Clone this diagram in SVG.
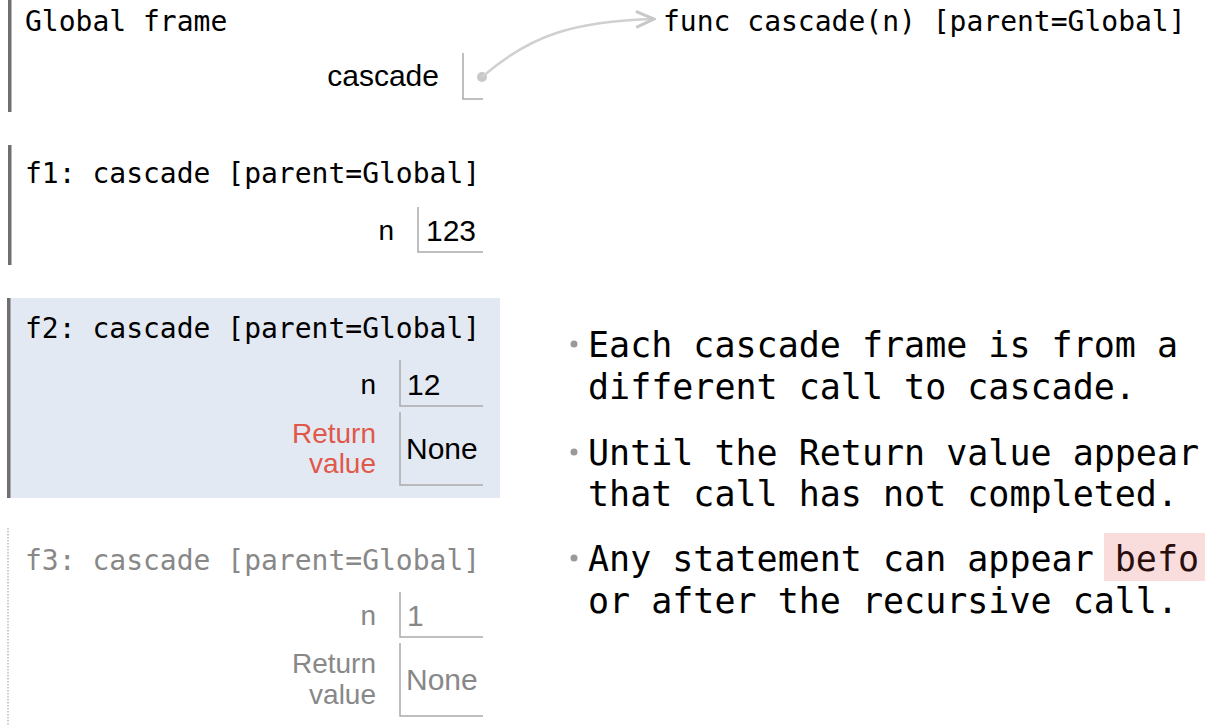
<svg xmlns="http://www.w3.org/2000/svg" width="1205" height="726" viewBox="0 0 1205 726">
<defs>
<style>
.mono{font-family:"DejaVu Sans Mono","Liberation Mono",monospace;}
.hdr{font-size:28px;fill:#000;}
.sans{font-family:"Liberation Sans","DejaVu Sans",sans-serif;}
.lbl{font-size:28px;fill:#000;text-anchor:end;}
.val{font-size:30px;fill:#000;}
.ret{fill:#e0584a;}
.dim{fill:#888;}
.bar{fill:#6f6f6f;}
.box{fill:none;stroke:#aaa;stroke-width:1.5;}
.bul{font-size:35px;fill:#000;}
.dot{fill:#999;}
</style>
<marker id="arr" viewBox="0 0 22 22" refX="20" refY="11" markerWidth="22" markerHeight="22" markerUnits="userSpaceOnUse" orient="auto">
<path d="M2,3 L20,11 L2,19" fill="none" stroke="#c8c8c8" stroke-width="3"/>
</marker>
</defs>
<rect width="1205" height="726" fill="#fff"/>

<g id="global-frame">
<rect class="bar" x="8" y="0" width="3.5" height="112"/>
<text class="mono hdr" x="25" y="31">Global frame</text>
<text class="sans lbl" x="439" y="86" style="font-size:30px">cascade</text>
<path class="box" d="M463,53 V99 H483"/>
</g>

<g id="func-object">
<text class="mono hdr" x="663" y="31">func cascade(n) [parent=Global]</text>
</g>

<g id="f1">
<rect class="bar" x="8" y="145" width="3.5" height="120"/>
<text class="mono hdr" x="25" y="183">f1: cascade [parent=Global]</text>
<text class="sans lbl" x="394" y="240">n</text>
<path class="box" d="M418,207 V252 H483"/>
<text class="sans val" x="426" y="241">123</text>
</g>

<g id="f2">
<rect x="7" y="298" width="493" height="200" fill="#e3e9f2"/>
<rect class="bar" x="7" y="298" width="3.5" height="200"/>
<text class="mono hdr" x="25" y="338">f2: cascade [parent=Global]</text>
<text class="sans lbl" x="376" y="394">n</text>
<path class="box" d="M400,360 V406 H483"/>
<text class="sans val" x="407" y="395">12</text>
<text class="sans lbl ret" x="376" y="443">Return</text>
<text class="sans lbl ret" x="376" y="473">value</text>
<path class="box" d="M400,412 V485 H483"/>
<text class="sans val" x="406" y="459">None</text>
</g>

<g id="f3">
<line x1="8" y1="528" x2="8" y2="726" stroke="#bbb" stroke-width="1.5" stroke-dasharray="1.5,1.5"/>
<text class="mono hdr dim" x="25" y="570">f3: cascade [parent=Global]</text>
<text class="sans lbl dim" x="376" y="625">n</text>
<path class="box" d="M400,592 V637 H483"/>
<text class="sans val dim" x="407" y="626">1</text>
<text class="sans lbl dim" x="376" y="673">Return</text>
<text class="sans lbl dim" x="376" y="704">value</text>
<path class="box" d="M400,643 V716 H483"/>
<text class="sans val dim" x="406" y="690">None</text>
</g>

<g id="connectors">
<circle cx="482" cy="77" r="5" fill="#c8c8c8"/>
<path d="M482,77 C530,35 575,21 654,19" fill="none" stroke="#d0d0d0" stroke-width="2.5" marker-end="url(#arr)"/>
</g>

<g id="notes">
<circle class="dot" cx="574" cy="344" r="3.5"/>
<text class="mono bul" x="588" y="357">Each cascade frame is from a</text>
<text class="mono bul" x="588" y="399">different call to cascade.</text>
<circle class="dot" cx="574" cy="452" r="3.5"/>
<text class="mono bul" x="588" y="465">Until the Return value appear</text>
<text class="mono bul" x="588" y="506">that call has not completed.</text>
<circle class="dot" cx="574" cy="558" r="3.5"/>
<rect x="1104" y="533" width="101" height="48" fill="#f9dcdc"/>
<text class="mono bul" x="588" y="571">Any statement can appear <tspan fill="#2a0e0e">befo</tspan></text>
<text class="mono bul" x="588" y="613">or after the recursive call.</text>
</g>
</svg>
